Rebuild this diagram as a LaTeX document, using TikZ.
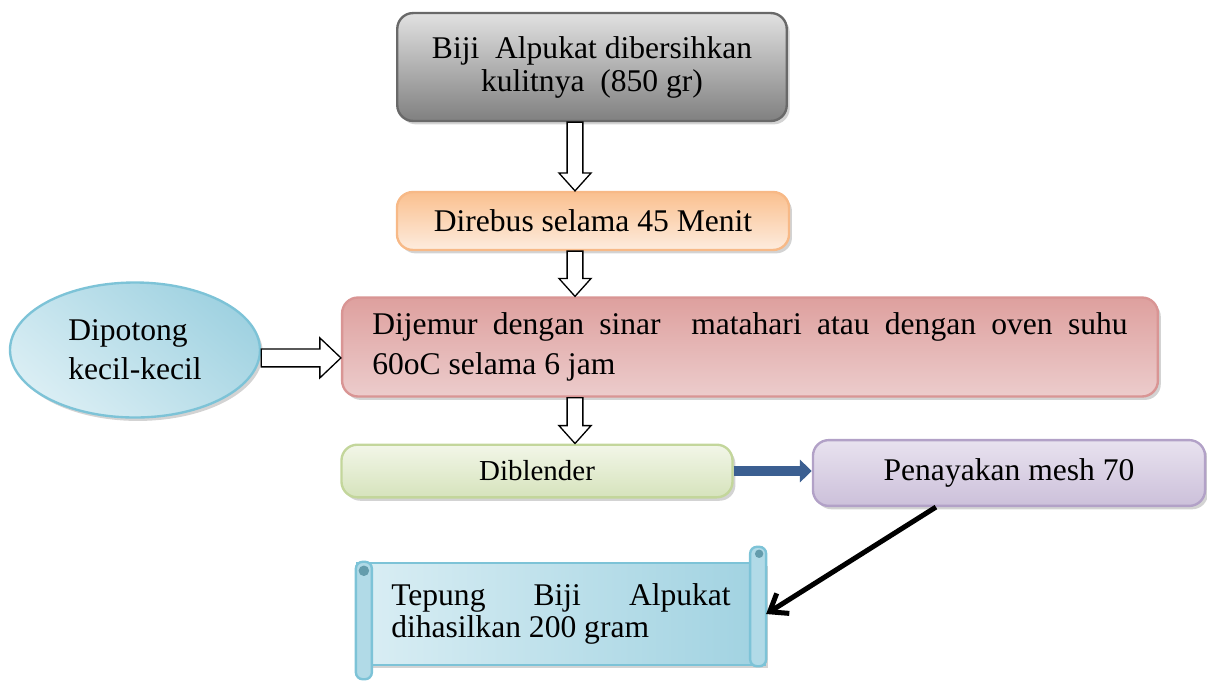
\documentclass[tikz,border=0pt]{standalone}
\usepackage{fontspec}
\setmainfont{Liberation Serif}
\usetikzlibrary{shapes.geometric,shadows,calc,arrows.meta}

\definecolor{grayedge}{RGB}{105,105,105}
\definecolor{graytop}{RGB}{225,225,225}
\definecolor{graybot}{RGB}{128,128,128}
\definecolor{orangeedge}{RGB}{247,185,135}
\definecolor{orangetop}{RGB}{250,192,143}
\definecolor{orangebot}{RGB}{253,236,222}
\definecolor{rededge}{RGB}{217,149,148}
\definecolor{redtop}{RGB}{222,160,158}
\definecolor{redmid}{RGB}{243,222,221}
\definecolor{redbot}{RGB}{236,204,204}
\definecolor{blueedge}{RGB}{125,195,215}
\definecolor{bluelight}{RGB}{218,238,244}
\definecolor{bluedark}{RGB}{160,210,225}
\definecolor{greenedge}{RGB}{195,214,155}
\definecolor{greentop}{RGB}{242,246,232}
\definecolor{greenbot}{RGB}{214,227,188}
\definecolor{purpleedge}{RGB}{178,161,199}
\definecolor{purpletop}{RGB}{232,226,239}
\definecolor{purplebot}{RGB}{204,192,218}
\definecolor{arrowblue}{RGB}{59,95,145}

\tikzset{
  flowbox/.style={draw, rounded corners=6pt, line width=0.9pt, inner sep=0pt,
    drop shadow={shadow xshift=1.1pt, shadow yshift=-1.3pt, opacity=0.35}},
  scrollroll/.style={draw=blueedge, line width=0.9pt, fill=bluedark!70!bluelight, rounded corners=2.6pt},
  hollowdown/.style={draw=black, fill=white, line width=0.5pt,
    to path={let \p1=(\tikztostart), \p2=(\tikztotarget) in
      (\x1-3pt,\y1) -- (\x1-3pt,\y2+6.8pt) -- (\x1-6.1pt,\y2+6.8pt) -- (\x1,\y2)
      -- (\x1+6.1pt,\y2+6.8pt) -- (\x1+3pt,\y2+6.8pt) -- (\x1+3pt,\y1) -- cycle}},
  hollowright/.style={draw=black, fill=white, line width=0.5pt,
    to path={let \p1=(\tikztostart), \p2=(\tikztotarget) in
      (\x1,\y1+3.4pt) -- (\x2-8pt,\y1+3.4pt) -- (\x2-8pt,\y1+7.6pt) -- (\x2,\y1)
      -- (\x2-8pt,\y1-7.6pt) -- (\x2-8pt,\y1-3.4pt) -- (\x1,\y1-3.4pt) -- cycle}}
}

\begin{document}
\begin{tikzpicture}[x=0.38pt, y=-0.38pt, font=\fontsize{12}{13}\selectfont]
    \useasboundingbox (0,0) rectangle (1207,680);
    \coordinate (axis) at (575,0);

    \node[flowbox, draw=grayedge, top color=graytop, bottom color=graybot,
          minimum width=148pt, minimum height=41pt, align=center,
          font=\fontsize{12}{12.5}\selectfont] (biji) at (592,67)
          {Biji\ \ Alpukat dibersihkan\\kulitnya\ \ (850 gr)};
    \node[flowbox, draw=orangeedge, top color=orangetop, bottom color=orangebot,
          minimum width=149pt, minimum height=22pt] (rebus) at (593,221)
          {Direbus selama 45 Menit};
    \node[flowbox, draw=rededge, top color=redtop, middle color=redmid, bottom color=redbot,
          minimum width=310pt, minimum height=37.6pt, text width=287pt, align=justify,
          font=\fontsize{12}{15}\selectfont] (jemur) at (750,347)
          {Dijemur dengan sinar\ \ matahari atau dengan oven suhu\linebreak 60oC selama 6 jam};
    \node[ellipse, draw=blueedge, line width=0.9pt, inner sep=0pt,
          top color=bluedark, bottom color=bluelight, shading angle=-40,
          drop shadow={shadow xshift=1.1pt, shadow yshift=-1.3pt, opacity=0.35},
          minimum width=95pt, minimum height=51.3pt, align=left,
          font=\fontsize{12}{14.8}\selectfont] (potong) at (135,350)
          {Dipotong\\kecil-kecil};
    \node[flowbox, draw=greenedge, top color=greentop, bottom color=greenbot,
          minimum width=148.6pt, minimum height=20pt,
          font=\fontsize{11}{12}\selectfont] (diblender) at (537,471) {Diblender};
    \node[flowbox, draw=purpleedge, top color=purpletop, bottom color=purplebot,
          minimum width=149pt, minimum height=25pt] (ayak) at (1009,473)
          {Penayakan mesh 70};
    \node[draw=blueedge, line width=0.9pt, inner sep=0pt,
          left color=bluelight, right color=bluedark,
          drop shadow={shadow xshift=1.1pt, shadow yshift=-1.3pt, opacity=0.35},
          minimum width=155pt, minimum height=38.8pt, text width=129pt, align=justify,
          font=\fontsize{12}{12}\selectfont] (tepung) at (561,614)
          {Tepung Biji Alpukat\linebreak dihasilkan 200 gram};
    \draw[scrollroll] ($(tepung.north east)+(-16,-15)$) rectangle (tepung.south east);
    \draw[scrollroll] (tepung.north west) rectangle ($(tepung.south west)+(16,13)$);
    \fill[blueedge!80!black] ($(tepung.north east)+(-7,-8)$) circle (1.6pt);
    \fill[blueedge!80!black] ($(tepung.north west)+(8,9)$) circle (2pt);

    \foreach \a/\b in {biji/rebus,rebus/jemur,jemur/diblender} {
        \draw[hollowdown] (\a.south -| axis) to (\b.north -| axis);
    }
    \draw[hollowright] ([yshift=-3pt]potong.east) to (jemur.west);

    \draw[arrowblue, line width=3.8pt, -{Triangle[length=4.5pt,width=8.4pt]}]
        (diblender.east) -- (diblender.east -| ayak.west);
    \draw[line width=1.9pt, -{Straight Barb[length=6pt,width=9pt]}] (ayak.205) -- (tepung.east);
\end{tikzpicture}
\end{document}
